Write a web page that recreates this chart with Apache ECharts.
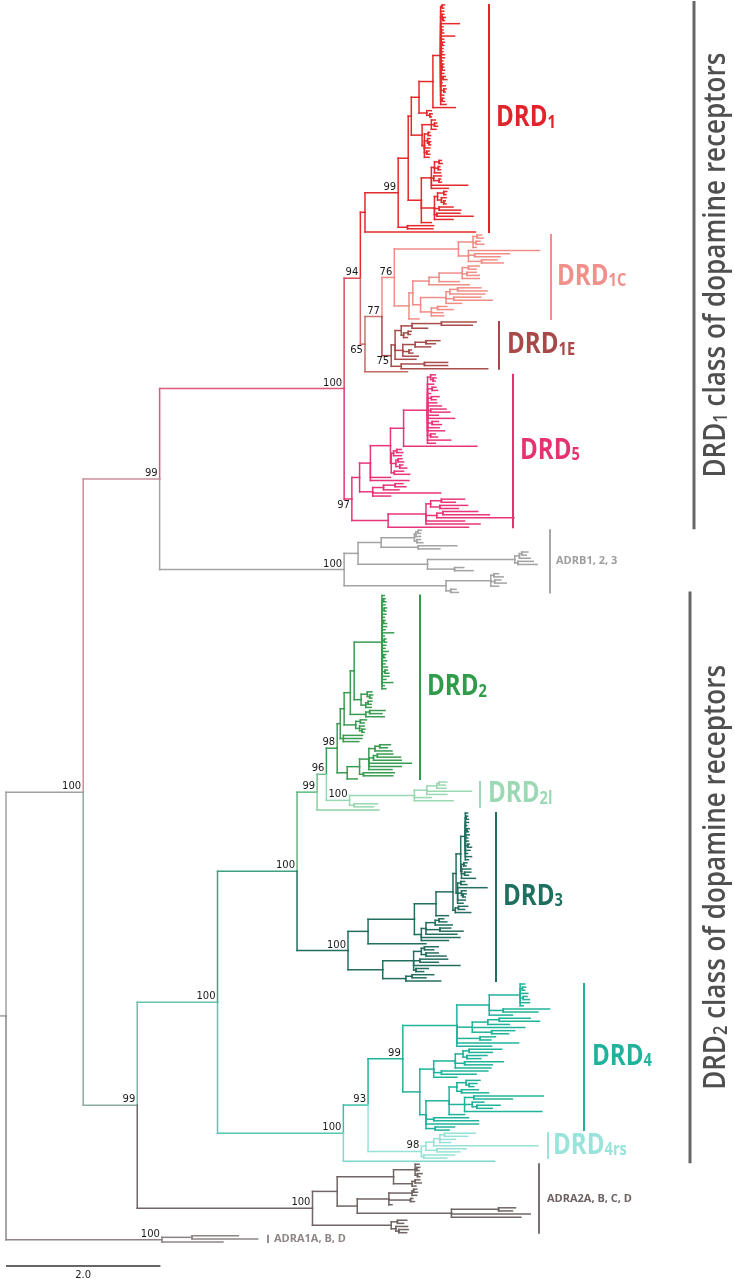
<!DOCTYPE html>
<html><head><meta charset="utf-8">
<script src="https://cdn.jsdelivr.net/npm/echarts/dist/echarts.min.js"></script>
<style>html,body{margin:0;padding:0;background:#fff}#c{width:735px;height:1279px}</style>
</head><body><div id="c"></div>
<script>
// ================= DATA =================
// Branch lengths are in units of 0.01 substitutions per site (scale bar = 2.0).
const DRD1_NWK =
  "((((((" +
  "((:3,:2):2,:4,(:2,(:3,:2):1):2,:24,:3,(:2,:3):1,:18,:4,(:3,:2):2,:3,(:2,:4):1,:5,:3,(:2,:2,:3):2,:4,(:3,:5):3,:2,:6,(:3,:2):4,:4,(:2,:3):2,:7)" +
  ":10,:29):18,(:6,(:3,:2):4):10):10," +
  "((:5,(:3,:4):4,:6):12,((:2,:3):5,(:3,(:2,:2):2):4,:7,(:3,:4):3,:6):3)" +
  ":14):4," +
  "((((:3,:4):6,(:2,:3):5,:8):4,(:10,(:2,:3):7):3,:47,:22):13,(((:4,:3):8,(:6,(:2,:3):3):5):4,(:18,:28):6,(:30,:47):3,:24):17,:13)" +
  ":17):13,(:34,:33):12)99:43,:143)";
const DRD1C_NWK =
  "(" + "(((:6,:8):5,(:5,:10):4,:4):19,(:92,(:45,:33):8,(:20,:28):17):13)" + ":83," +
  "(((" + "(((:14,:10):8,(:12,:16):6,:22):30,:26)" + ":13,:52):21,(" +
  "(((:30,:38):10,:45):5,(:35,:50):10,:20)" + ":33," + "((:12,:20):8,:15,:16)" + ":14):10):5,:13):19)";
const DRD1E_NWK = "(((((:45,:40):38,:20):14,((:4,:3):6,:5):3):8,(((:18,:12):14,:20):16,(:3,:5):8,:20):10,:27):5,((:30,:30):30,:112):13)";
const DRD5_NWK =
  "(((((" +
  "((:6,(:4,:3):3):4,:8,(:5,:7):6,:4,(:10,:6):5,:12,:18,(:20,:25):4,:14,:35,(:8,:12):6,:15,:22,(:6,:9):4,:30,:10)" +
  ":31,:95):17," + "(((:6,:8):4,:10):3,((:5,:7):3,(:4,:9):5):6,(:12,:20):4)" + ":1):26,:26,:50):14," +
  "(((:10,:14):15,:20):14,:88,:23)" + ":17):10,(" +
  "(((:30,:18):14,(:36,:24):12):6,((:45,:60):8,:100):14,:50,:70)" + ":49,:104):47)";
const ADRB_NWK =
  "(((" + "(((:4,:3):3,:6):2,(:5,:8):3)" + ":43,(:50,:28):48):30," +
  "((((:8,:6):3,:14):6,(:20,:25):4):113,(:12,:24):35)" + ":90):18," +
  "(((:6,:12):4,(:8,:15):5,:10):58,(:7,:10):6)" + ":132)";
const DRD2_NWK =
  "(((((" +
  "(:3,(:2,:3):2,:4,(:3,:2):3,:5,:3,(:2,:4):2,:6,:4,:15,:3,(:2,:3):3,:5,:4,:8,(:3,:2):2,:6,:4,:7,(:3,:5):4,:9,:5,:14,:3,:5)" +
  ":36,((:6,(:4,:3):3):8,((:5,:4):3,:7):6):9):5,((:20,:16):5,:24):20):8,((:8,:5):6,(:6,(:4,:3):3):5):15):5,(:25,:24,:20):4):4,((" +
  "(((:14,:10):6,:22):8,((:20,:30):5,:36):6,:55,:42,:30)" +
  ":12,(:40,:38):5):16,:13):13)";
const DRD2L_NWK = "(((((:10,:8):3,:12):13,:58,:26):16,:22,:50):84,(:30,:25):6)";
const DRD3_NWK =
  "(((((((" +
  "(:3,(:2,:3):1,:4,:2,(:3,:2):2,:5,:3,:4,(:2,:5):3,:6,:3,:8,:4)" +
  ":6,((:4,:3):3,:12,(:8,:5):4,:18):1):6,((:5,:8):4,:38,(:6,(:4,:3):2):5,:10,:7):2):4,((:12,:8):4,:20):3):22,:16):28," +
  "((((:6,:10):5,:22):12,(:14,:30):18,:40):6,:50,:35)" + ":9):60,:75):26," +
  "((((:18,:12):4,(:16,:26):6):10,(:36,:24):8,:60,(:16,:10):3):40,((:28,:18):8,:45):30)" + ":45)";
const DRD4_NWK =
  "((" + "((:6,(:4,:3):3,:10,(:5,:8):4,:12,:4):40,(:60,:45):18,:30)" + ":42," +
  "(((:40,:52):15,:28):20,:68,(:30,:22):25)" + ":20,(:20,:14):30,:80,:45):70,(" +
  "((((:42,:30):8,(:26,:18):5):10,(:50,:36):12,:46):28,(:60,:45):10,:30)" + ":18,(" +
  "(((:18,(:10,:6):4):12,(:22,:35):6):10,((:90,:50):12,(:15,(:30,:20):6):10,:100):20,:20)" +
  ":30,(:45,:58):10,:68,(:25,:18):12):8):22)";
const DRD4RS_NWK = "(((((:40,:30):6,:20,:14):8,:135):10,(:38,:30):14):6,(:40,:30):3)";
const ADRA2_NWK =
  "((" + "((:5,(:4,:3):2,(:6,:3):3):28,((:6,:8):4,:5):24)" + ":73,(" +
  "(((:4,:5):2,:6):30,(:3,:5):28,:4)" + ":41," + "((:22,:18):61,:102,:90)" + ":122):26):32," +
  "((:12,:8):8,(:15,(:12,:10):4):6)" + ":102)";
const ADRA1_NWK = "((:60,:85):39,:79)";

// Tree backbone in drawing order: [id, parent, branch length, bootstrap, subtree]
const TREE = [
  ['R',       null,      0,   '',    null],
  ['A',       'R',       100, '100', null],
  ['B',       'A',       99,  '99',  null],
  ['D1class', 'B',       239, '100', null],
  ['N94',     'D1class', 21,  '94',  null],
  ['DRD1',    'N94',     6,   '',    DRD1_NWK],
  ['N65',     'N94',     6,   '65',  null],
  ['N77',     'N65',     22,  '77',  null],
  ['DRD1C',   'N77',     16,  '76',  DRD1C_NWK],
  ['DRD1E',   'N77',     12,  '75',  DRD1E_NWK],
  ['leafE',   'N65',     55,  '',    null],
  ['DRD5',    'D1class', 10,  '97',  DRD5_NWK],
  ['ADRB',    'B',       239, '100', ADRB_NWK],
  ['C',       'A',       70,  '99',  null],
  ['N100a',   'C',       104, '100', null],
  ['N100b',   'N100a',   103, '100', null],
  ['N99b',    'N100b',   26,  '99',  null],
  ['N96',     'N99b',    12,  '96',  null],
  ['DRD2',    'N96',     14,  '98',  DRD2_NWK],
  ['DRD2l',   'N96',     30,  '100', DRD2L_NWK],
  ['leaf2',   'N99b',    80,  '',    null],
  ['DRD3',    'N100b',   66,  '100', DRD3_NWK],
  ['N100c',   'N100a',   163, '100', null],
  ['N93',     'N100c',   32,  '93',  null],
  ['DRD4',    'N93',     45,  '99',  DRD4_NWK],
  ['DRD4rs',  'N93',     69,  '98',  DRD4RS_NWK],
  ['leaf4',   'N100c',   196, '',    null],
  ['ADRA2',   'C',       227, '100', ADRA2_NWK],
  ['ADRA1',   'R',       202, '100', ADRA1_NWK]
];
const SUPPORT_BELOW = ['N65', 'DRD1E', 'DRD5'];
// Clade labels: [node id, main text, small text]
const CLADE_LABELS = [
  ['DRD1', 'DRD', '1'], ['DRD1C', 'DRD', '1C'], ['DRD1E', 'DRD', '1E'], ['DRD5', 'DRD', '5'],
  ['ADRB', 'ADRB1, 2, 3', ''], ['DRD2', 'DRD', '2'], ['DRD2l', 'DRD', '2l'], ['DRD3', 'DRD', '3'],
  ['DRD4', 'DRD', '4'], ['DRD4rs', 'DRD', '4rs'], ['ADRA2', 'ADRA2A, B, C, D', ''], ['ADRA1', 'ADRA1A, B, D', '']
];
const CLASS_LABELS = [['D1class', '1'], ['N100a', '2']];
const SCALE_BAR = 2.0;

// ================= STYLE / LAYOUT =================
const COLORS = {
  R:'#a29e9e', A:'#a6a0a0', B:'#c98f9b', D1class:'#e0587a', N94:'#e04a5a', DRD1:'#e42a2c',
  N65:'#d06a66', N77:'#c97270', DRD1C:'#f08e86', DRD1E:'#a94c4c', leafE:'#c46a64', DRD5:'#e8357a',
  ADRB:'#a3a3a3', C:'#8aaca4', N100a:'#66c2aa', N100b:'#40a080', N99b:'#5cb880', N96:'#6dbf8a',
  DRD2:'#3a9c52', DRD2l:'#9ad8b2', leaf2:'#8ccfa6', DRD3:'#236e5f', N100c:'#55c8b0', N93:'#3cbfa8',
  DRD4:'#1fb39b', DRD4rs:'#96e2d8', leaf4:'#7fd9cc', ADRA2:'#706565', ADRA1:'#8e8484'
};
const LABEL_STYLE = {
  DRD1:{bar:489,x:496,big:true,c:'#e3232a'}, DRD1C:{bar:551,x:557,big:true,c:'#f0908a'},
  DRD1E:{bar:499,x:507,big:true,c:'#a84848'}, DRD5:{bar:513,x:520,big:true,c:'#e6326f'},
  ADRB:{bar:550,x:556,big:false,c:'#9d9d9d'}, DRD2:{bar:420,x:427,big:true,c:'#2f9b4b'},
  DRD2l:{bar:480,x:488,big:true,c:'#9ad9b4'}, DRD3:{bar:496,x:503,big:true,c:'#1f6f60'},
  DRD4:{bar:584,x:592,big:true,c:'#1eb39a'}, DRD4rs:{bar:548,x:553,big:true,c:'#98e3da'},
  ADRA2:{bar:539,x:547,big:false,c:'#6d6161'}, ADRA1:{bar:268,x:274,big:false,c:'#8f8585'}
};
const PX_PER_UNIT = 77.2, ROOT_PX = 6, W = 735, TOP_PX = 5, BOTTOM_PX = 37;
const xMin = -ROOT_PX / PX_PER_UNIT, xMax = (W - ROOT_PX) / PX_PER_UNIT;
const UNIT = 0.01;

// ================= BUILD TREE =================
function parseNewick(str) {
  const s = str.replace(/\s+/g, '');
  let i = 0;
  function node() {
    const n = {children: [], len: 0, label: ''};
    if (s[i] === '(') {
      i++;
      n.children.push(node());
      while (s[i] === ',') { i++; n.children.push(node()); }
      i++;
    }
    let lab = '';
    while (i < s.length && ':,()'.indexOf(s[i]) < 0) lab += s[i++];
    n.label = lab;
    if (s[i] === ':') {
      i++; let num = '';
      while (i < s.length && ',()'.indexOf(s[i]) < 0) num += s[i++];
      n.len = parseFloat(num);
    }
    return n;
  }
  return node();
}
function paint(n, c) { n.color = c; n.children.forEach(k => paint(k, c)); }
const byId = {};
let root = null;
TREE.forEach(([id, parent, len, sup, nwk]) => {
  const n = nwk ? parseNewick(nwk) : {children: [], len: 0, label: ''};
  n.len = len; n.label = sup; n.id = id;
  paint(n, COLORS[id]);
  n.below = SUPPORT_BELOW.indexOf(id) >= 0;
  byId[id] = n;
  if (parent) byId[parent].children.push(n); else root = n;
});
let leafCount = 0;
function layout(n, x) {
  n.x = x;
  if (!n.children.length) { n.y = leafCount++; n.first = n.last = n.y; return; }
  n.children.forEach(c => layout(c, x + c.len * UNIT));
  n.y = (n.children[0].y + n.children[n.children.length - 1].y) / 2;
  n.first = n.children[0].first;
  n.last = n.children[n.children.length - 1].last;
}
layout(root, 0);
const segs = [[xMin, root.y, 0, root.y, root.color]];
const supports = [];
(function walk(n) {
  if (n.label) supports.push([n.x, n.y, n.label, n.below ? 1 : 0]);
  n.children.forEach(c => {
    segs.push([n.x, n.y, n.x, c.y, c.color]);
    segs.push([n.x, c.y, c.x, c.y, c.color]);
    walk(c);
  });
})(root);

// ================= CHART =================
const chart = echarts.init(document.getElementById('c'), null, {renderer: 'canvas'});
chart.setOption({
  animation: false,
  backgroundColor: '#fff',
  grid: {left: 0, right: 0, top: TOP_PX, bottom: BOTTOM_PX},
  xAxis: {type: 'value', min: xMin, max: xMax, show: false},
  yAxis: {type: 'value', min: 0, max: leafCount - 1, inverse: true, show: false},
  series: [{
    type: 'custom', clip: false, silent: true, progressive: 0,
    data: segs.map(s => [s[0], s[1], s[2], s[3]]),
    encode: {x: [0, 2], y: [1, 3]},
    renderItem(params, api) {
      const p1 = api.coord([api.value(0), api.value(1)]);
      const p2 = api.coord([api.value(2), api.value(3)]);
      return {type: 'line', shape: {x1: p1[0], y1: p1[1], x2: p2[0], y2: p2[1]},
        style: {stroke: segs[params.dataIndex][4], lineWidth: 1.5, lineCap: 'square'}};
    }
  }, {
    type: 'custom', clip: false, silent: true, progressive: 0,
    data: supports.map(s => [s[0], s[1]]),
    encode: {x: 0, y: 1},
    renderItem(params, api) {
      const s = supports[params.dataIndex];
      const p = api.coord([api.value(0), api.value(1)]);
      return {type: 'text', x: p[0] - 2, y: s[3] ? p[1] + 1 : p[1] - 0.5,
        style: {text: s[2], font: '10px "DejaVu Sans"', fill: '#1a1a1a',
          align: 'right', verticalAlign: s[3] ? 'top' : 'bottom',
          textAlign: 'right', textVerticalAlign: s[3] ? 'top' : 'bottom'}};
    }
  }]
});

// annotations
const toPx = (x, y) => chart.convertToPixel({gridIndex: 0}, [x, y]);
const mc = document.createElement('canvas').getContext('2d');
function tw(font, t) { mc.font = font; return mc.measureText(t).width; }
const g = [];
CLADE_LABELS.forEach(([id, main, sub]) => {
  const n = byId[id], st = LABEL_STYLE[id];
  const y1 = toPx(0, n.first)[1] - 1, y2 = toPx(0, n.last)[1] + 1, yc = (y1 + y2) / 2;
  g.push({type: 'line', silent: true, shape: {x1: st.bar, y1: y1, x2: st.bar, y2: y2},
    style: {stroke: st.c, lineWidth: st.big ? 2 : 1.8}});
  if (st.big) {
    g.push({type: 'text', silent: true, x: st.x, y: yc, scaleX: 0.86, originX: 0,
      style: {text: '{a|' + main + '}{b|' + sub + '}', verticalAlign: 'middle', textVerticalAlign: 'middle',
        rich: {a: {font: 'bold 28px "Open Sans"', fill: st.c, verticalAlign: 'bottom'},
               b: {font: 'bold 17px "Open Sans"', fill: st.c, verticalAlign: 'bottom', padding: [0, 0, 1, 0]}}}});
  } else {
    g.push({type: 'text', silent: true, x: st.x, y: yc,
      style: {text: main, font: 'bold 11px "Open Sans"', fill: st.c, verticalAlign: 'middle', textVerticalAlign: 'middle'}});
  }
});
CLASS_LABELS.forEach(([id, num], k) => {
  const n = byId[id];
  const y1 = toPx(0, n.first)[1] - 4, y2 = toPx(0, n.last)[1] + 2, yc = (y1 + y2) / 2;
  const bx = k === 0 ? 694 : 690;
  g.push({type: 'line', silent: true, shape: {x1: bx, y1: y1, x2: bx, y2: y2}, style: {stroke: '#666', lineWidth: 3}});
  const fa = '600 30px "Open Sans"', fb = '600 19px "Open Sans"';
  const w = tw(fa, 'DRD') + tw(fb, num) + tw(fa, ' class of dopamine receptors');
  const target = 425;
  g.push({type: 'text', silent: true, x: 716, y: yc, rotation: Math.PI / 2, scaleX: target / w,
    style: {text: '{a|DRD}{b|' + num + '}{a| class of dopamine receptors}', align: 'center', textAlign: 'center',
      verticalAlign: 'middle', textVerticalAlign: 'middle',
      rich: {a: {font: fa, fill: '#4f4f4f', verticalAlign: 'bottom'}, b: {font: fb, fill: '#4f4f4f', verticalAlign: 'bottom'}}}});
});
const s0 = toPx(0, 0)[0], s1 = toPx(SCALE_BAR, 0)[0];
g.push({type: 'line', silent: true, shape: {x1: s0, y1: 1266, x2: s1, y2: 1266}, style: {stroke: '#333', lineWidth: 1.5}});
g.push({type: 'text', silent: true, x: (s0 + s1) / 2, y: 1270,
  style: {text: SCALE_BAR.toFixed(1), font: '10px "DejaVu Sans"', fill: '#222', align: 'center', textAlign: 'center'}});
chart.setOption({graphic: {elements: g}});
</script>
</body></html>
